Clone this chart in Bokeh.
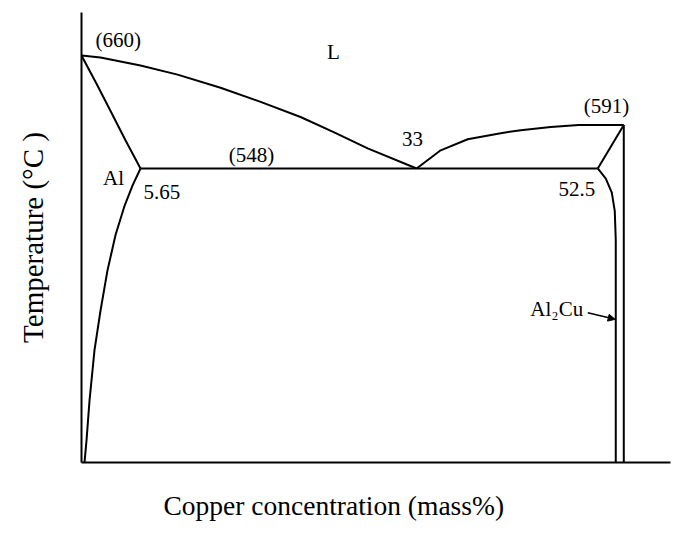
import math
from bokeh.plotting import figure
from bokeh.models import Range1d, Label, Arrow, NormalHead, FixedTicker, Title
from bokeh.embed import file_html
from bokeh.resources import INLINE

# Phase diagram Al-Cu (schematic), x = Cu mass% position, y = temperature (degC)
liq_left_x = [0.0, 1.87, 5.81, 9.46, 13.69, 17.64, 21.57, 24.83, 28.18, 33.0]
liq_left_t = [660, 658, 650, 641, 628, 614, 599, 584, 568, 548]

liq_right_x = [33.0, 35.37, 38.03, 41.28, 43.25, 46.21, 48.97, 53.4]
liq_right_t = [548, 566, 577, 583, 586, 589, 591, 591]

sol_left_x = [0.0, 1.48, 2.86, 4.33, 5.81]
sol_left_t = [660, 632, 605, 576, 548]

solvus_x = [5.81, 5.02, 4.24, 3.35, 2.56, 1.87, 1.28, 0.79, 0.49, 0.30]
solvus_t = [548, 531, 511, 482, 447, 407, 368, 318, 278, 257]

eut_x = [5.81, 50.84]
eut_t = [548, 548]

sol_right_x = [50.84, 53.4]
sol_right_t = [548, 591]

al2cu_left_x = [50.84, 51.63, 52.22, 52.51, 52.61, 52.61]
al2cu_left_t = [548, 538, 524, 506, 477, 257]

al2cu_right_x = [53.4, 53.4]
al2cu_right_t = [591, 257]

labels = ["(660)", "L", "(548)", "33", "(591)", "Al", "5.65", "52.5", "Al\u2082Cu"]
label_x = [1.38, 24.8, 16.75, 32.6, 51.7, 3.15, 6.1, 48.77, 49.4]
label_t = [675, 663, 561, 577, 610, 539, 525, 528, 409]
label_align = ["left", "center", "center", "center", "center", "center", "left", "center", "right"]

x_title = "Copper concentration (mass%)"
y_title = "Temperature (\u00b0C )"

font = "Liberation Serif"

p = figure(width=673, height=545, output_backend="svg", toolbar_location=None,
           x_range=Range1d(0, 58), y_range=Range1d(256.6, 702.6),
           min_border_left=81, min_border_right=3, min_border_top=12, min_border_bottom=83)
p.outline_line_color = None
p.xgrid.visible = False
p.ygrid.visible = False
p.background_fill_color = "white"
for ax in (p.xaxis[0], p.yaxis[0]):
    ax.ticker = FixedTicker(ticks=[])
    ax.major_tick_line_color = None
    ax.minor_tick_line_color = None
    ax.axis_line_width = 2
    ax.axis_line_color = "black"

p.yaxis[0].axis_label = y_title
p.yaxis[0].axis_label_text_font = font
p.yaxis[0].axis_label_text_font_size = "29px"
p.yaxis[0].axis_label_text_font_style = "normal"
p.yaxis[0].axis_label_text_color = "black"
p.yaxis[0].axis_label_standoff = 33

p.add_layout(Title(text=x_title, text_font=font, text_font_size="27.5px",
                   text_font_style="normal", text_color="black",
                   align="left", offset=82, standoff=50), "below")

lw = 2
for xs, ts in [(liq_left_x, liq_left_t), (liq_right_x, liq_right_t), (sol_left_x, sol_left_t),
               (solvus_x, solvus_t), (eut_x, eut_t), (sol_right_x, sol_right_t),
               (al2cu_left_x, al2cu_left_t), (al2cu_right_x, al2cu_right_t)]:
    p.line(xs, ts, line_color="black", line_width=lw)

for txt, x, t, al in zip(labels, label_x, label_t, label_align):
    p.add_layout(Label(x=x, y=t, text=txt, text_font=font, text_font_size="21px",
                       text_align=al, text_baseline="middle", text_color="black"))

p.add_layout(Arrow(end=NormalHead(size=7, fill_color="black", line_color="black"),
                   x_start=49.85, y_start=405, x_end=52.55, y_end=398.5,
                   line_color="black", line_width=1.5))

open("out.html", "w").write(file_html(p, INLINE))
